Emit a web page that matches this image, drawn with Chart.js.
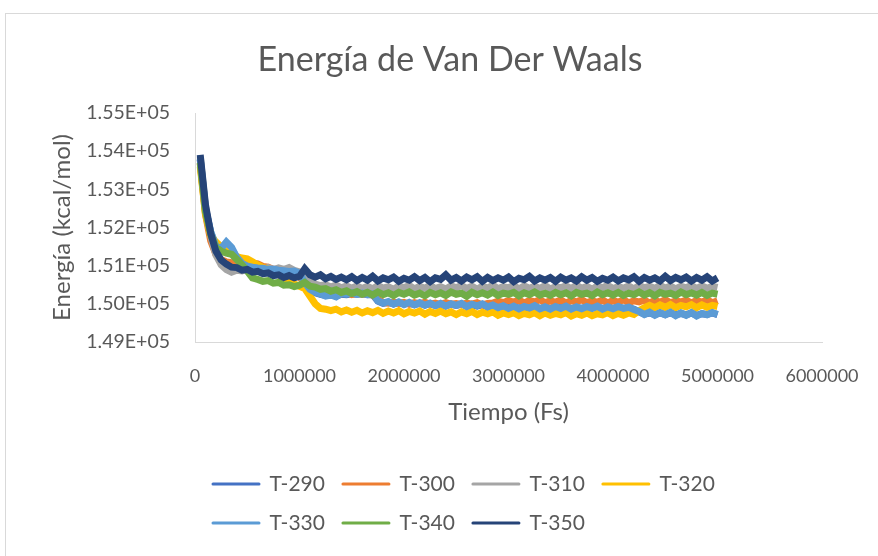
<!DOCTYPE html>
<html>
<head>
<meta charset="utf-8">
<script src="https://cdn.jsdelivr.net/npm/chart.js@4/dist/chart.umd.min.js"></script>
<style>
  html, body { margin: 0; padding: 0; background: #fff; overflow: hidden; }
  #chartVdw { display: block; }
</style>
</head>
<body>
<canvas id="chartVdw" width="900" height="556"></canvas>
<script>
// tiempo (fs), una muestra cada 50000 fs
const tiempo = [
  50000, 100000, 150000, 200000, 250000, 300000, 350000, 400000, 450000, 500000,
  550000, 600000, 650000, 700000, 750000, 800000, 850000, 900000, 950000, 1000000,
  1050000, 1100000, 1150000, 1200000, 1250000, 1300000, 1350000, 1400000, 1450000, 1500000,
  1550000, 1600000, 1650000, 1700000, 1750000, 1800000, 1850000, 1900000, 1950000, 2000000,
  2050000, 2100000, 2150000, 2200000, 2250000, 2300000, 2350000, 2400000, 2450000, 2500000,
  2550000, 2600000, 2650000, 2700000, 2750000, 2800000, 2850000, 2900000, 2950000, 3000000,
  3050000, 3100000, 3150000, 3200000, 3250000, 3300000, 3350000, 3400000, 3450000, 3500000,
  3550000, 3600000, 3650000, 3700000, 3750000, 3800000, 3850000, 3900000, 3950000, 4000000,
  4050000, 4100000, 4150000, 4200000, 4250000, 4300000, 4350000, 4400000, 4450000, 4500000,
  4550000, 4600000, 4650000, 4700000, 4750000, 4800000, 4850000, 4900000, 4950000, 5000000
];

const t290 = [
  153780, 152480, 151880, 151500, 151420, 151560, 151440, 151200, 151040, 150970,
  150940, 150920, 150910, 150890, 150890, 150870, 150850, 150840, 150840, 150780,
  150540, 150370, 150290, 150250, 150220, 150230, 150210, 150250, 150240, 150260,
  150250, 150260, 150240, 150240, 150070, 150010, 150040, 150000, 150030, 149990,
  150020, 149980, 150010, 149970, 150000, 149960, 149990, 149950, 149990, 149960,
  149990, 149940, 149980, 149940, 149980, 149920, 149950, 149910, 149940, 149900,
  149930, 149890, 149920, 149890, 149930, 149880, 149910, 149880, 149920, 149890,
  149920, 149880, 149910, 149880, 149920, 149890, 149920, 149880, 149910, 149880,
  149920, 149880, 149900, 149860, 149790, 149730, 149760, 149720, 149760, 149720,
  149760, 149710, 149750, 149710, 149760, 149700, 149740, 149720, 149760, 149720
];

const t300 = [
  153680, 152350, 151650, 151300, 151160, 151100, 151080, 151040, 151060, 151020,
  151070, 151050, 150980, 150960, 150900, 150910, 150860, 150840, 150780, 150700,
  150560, 150420, 150340, 150300, 150280, 150250, 150300, 150260, 150290, 150240,
  150280, 150250, 150270, 150230, 150120, 150040, 150020, 150050, 150010, 150040,
  149990, 150030, 150000, 150040, 149990, 150020, 149980, 150030, 149990, 150010,
  149980, 150020, 149990, 150030, 149970, 150010, 150020, 150070, 150030, 150090,
  150040, 150100, 150020, 150090, 150050, 150110, 150030, 150080, 150040, 150100,
  150020, 150090, 150050, 150110, 150030, 150080, 150040, 150100, 150020, 150090,
  150040, 150110, 150030, 150080, 150050, 150100, 150020, 150090, 150040, 150110,
  150030, 150080, 150050, 150100, 150020, 150090, 150040, 150110, 150030, 150080
];

const t310 = [
  153850, 152550, 151780, 151280, 151020, 150900, 150830, 150880, 150860, 150920,
  150880, 150940, 150900, 150950, 150890, 150940, 150900, 150950, 150880, 150840,
  150700, 150580, 150520, 150480, 150500, 150440, 150490, 150420, 150470, 150410,
  150470, 150400, 150460, 150390, 150480, 150410, 150450, 150380, 150470, 150420,
  150480, 150390, 150460, 150410, 150490, 150400, 150450, 150390, 150470, 150420,
  150480, 150400, 150460, 150380, 150470, 150410, 150490, 150400, 150450, 150420,
  150480, 150390, 150470, 150410, 150460, 150400, 150480, 150390, 150450, 150420,
  150470, 150400, 150490, 150410, 150460, 150380, 150470, 150420, 150480, 150400,
  150450, 150410, 150470, 150390, 150480, 150420, 150460, 150400, 150490, 150410,
  150470, 150390, 150460, 150420, 150480, 150400, 150470, 150410, 150460, 150430
];

const t320 = [
  153600, 152350, 151800, 151620, 151500, 151380, 151300, 151240, 151200, 151180,
  151100, 151020, 150950, 150900, 150820, 150760, 150680, 150600, 150520, 150460,
  150400, 150200, 150000, 149880, 149860, 149820, 149860, 149790, 149840, 149780,
  149830, 149760, 149820, 149770, 149830, 149750, 149810, 149760, 149820, 149740,
  149800, 149760, 149810, 149730, 149800, 149750, 149810, 149740, 149790, 149720,
  149790, 149740, 149800, 149720, 149780, 149740, 149790, 149700, 149760, 149720,
  149770, 149690, 149750, 149710, 149770, 149690, 149760, 149700, 149750, 149710,
  149770, 149680, 149740, 149700, 149760, 149690, 149740, 149710, 149770, 149690,
  149750, 149700, 149760, 149720, 149820, 149900, 149960, 149900, 149970, 149910,
  149980, 149900, 149960, 149920, 149980, 149900, 149970, 149910, 149960, 149930
];

const t330 = [
  153800, 152500, 151900, 151520, 151450, 151620, 151480, 151220, 151060, 150990,
  150960, 150940, 150930, 150900, 150910, 150880, 150870, 150850, 150860, 150800,
  150560, 150380, 150300, 150260, 150200, 150230, 150180, 150270, 150250, 150290,
  150250, 150280, 150240, 150260, 150080, 150020, 150060, 149990, 150050, 149980,
  150040, 149970, 150030, 149960, 150020, 149950, 150010, 149940, 150000, 149960,
  150010, 149930, 149990, 149950, 150000, 149920, 149970, 149900, 149950, 149880,
  149940, 149870, 149930, 149890, 149950, 149870, 149920, 149860, 149930, 149880,
  149940, 149860, 149920, 149870, 149930, 149880, 149940, 149860, 149920, 149870,
  149930, 149880, 149910, 149850, 149800, 149720, 149780, 149700, 149770, 149710,
  149780, 149690, 149760, 149700, 149770, 149680, 149750, 149710, 149770, 149720
];

const t340 = [
  153700, 152420, 151820, 151480, 151380, 151330, 151300, 151160, 151020, 150860,
  150680, 150640, 150590, 150610, 150540, 150560, 150490, 150500, 150450, 150490,
  150560, 150460, 150440, 150380, 150400, 150330, 150370, 150300, 150340, 150270,
  150320, 150250, 150300, 150230, 150310, 150240, 150290, 150220, 150300, 150250,
  150310, 150230, 150280, 150210, 150300, 150240, 150290, 150220, 150310, 150250,
  150280, 150200, 150300, 150240, 150290, 150230, 150310, 150220, 150280, 150250,
  150300, 150210, 150290, 150240, 150310, 150230, 150280, 150220, 150300, 150240,
  150290, 150210, 150300, 150250, 150280, 150220, 150310, 150240, 150290, 150230,
  150300, 150220, 150280, 150240, 150310, 150230, 150290, 150210, 150300, 150250,
  150280, 150220, 150310, 150240, 150290, 150230, 150300, 150220, 150280, 150250
];

const t350 = [
  153900, 152600, 151850, 151380, 151150, 151040, 150960, 150950, 150880, 150900,
  150830, 150850, 150790, 150810, 150740, 150760, 150690, 150740, 150680, 150720,
  150920, 150760, 150700, 150760, 150660, 150720, 150640, 150700, 150630, 150710,
  150610, 150690, 150620, 150720, 150600, 150680, 150630, 150700, 150590, 150670,
  150620, 150710, 150610, 150690, 150580, 150680, 150640, 150760, 150620, 150690,
  150600, 150700, 150630, 150710, 150590, 150690, 150610, 150680, 150620, 150700,
  150580, 150670, 150630, 150720, 150600, 150680, 150620, 150690, 150590, 150700,
  150620, 150680, 150600, 150710, 150620, 150690, 150590, 150670, 150620, 150700,
  150600, 150680, 150630, 150710, 150590, 150690, 150620, 150680, 150600, 150720,
  150610, 150690, 150630, 150700, 150600, 150690, 150620, 150710, 150600, 150680
];

const nombres = ['T-290', 'T-300', 'T-310', 'T-320', 'T-330', 'T-340', 'T-350'];
const energias = [t290, t300, t310, t320, t330, t340, t350];
const colores = ['#4472C4', '#ED7D31', '#A5A5A5', '#FFC000', '#5B9BD5', '#70AD47', '#264478'];

const grisTexto = '#595959';
const grisEje = '#d9d9d9';

Chart.defaults.font.family = 'Lato';
Chart.defaults.color = grisTexto;

// marco del grafico (como en Excel) y fondo blanco
const marco = {
  id: 'marco',
  beforeDraw(chart) {
    const ctx = chart.ctx;
    ctx.save();
    ctx.fillStyle = '#fff';
    ctx.fillRect(0, 0, chart.width, chart.height);
    ctx.strokeStyle = grisEje;
    ctx.lineWidth = 1;
    ctx.strokeRect(5.5, 13.5, chart.width + 20, chart.height + 20);
    ctx.restore();
  }
};

new Chart(document.getElementById('chartVdw'), {
  type: 'line',
  data: {
    datasets: nombres.map((nombre, i) => ({
      label: nombre,
      data: tiempo.map((x, j) => ({x: x, y: energias[i][j]})),
      borderColor: colores[i],
      backgroundColor: colores[i],
      borderWidth: 7,
      pointRadius: 0,
      tension: 0,
      fill: false,
      order: nombres.length - i
    }))
  },
  options: {
    responsive: false,
    animation: false,
    events: [],
    layout: {
      padding: {left: 0, right: 0, top: 0, bottom: 12.5}
    },
    plugins: {
      title: {
        display: true,
        text: 'Energía de Van Der Waals',
        color: grisTexto,
        font: {size: 34, weight: 'normal'},
        padding: {top: 39.6, bottom: 32.6}
      },
      legend: {
        position: 'bottom',
        align: 'start',
        fullSize: false,
        labels: {
          usePointStyle: true,
          pointStyle: 'line',
          pointStyleWidth: 46,
          padding: 18,
          color: grisTexto,
          font: {size: 21},
          generateLabels(chart) {
            const items = Chart.defaults.plugins.legend.labels.generateLabels(chart);
            items.sort((a, b) => a.datasetIndex - b.datasetIndex);
            items.forEach(it => {
              it.lineWidth = 3;
              it.lineCap = 'round';
            });
            return items;
          }
        }
      },
      tooltip: {enabled: false}
    },
    scales: {
      x: {
        type: 'linear',
        min: 0,
        max: 6000000,
        grid: {display: false, drawTicks: false},
        border: {color: grisEje},
        ticks: {
          stepSize: 1000000,
          autoSkip: false,
          maxRotation: 0,
          padding: 23,
          color: grisTexto,
          font: {size: 18},
          callback: v => String(v)
        },
        title: {
          display: true,
          text: 'Tiempo (Fs)',
          color: grisTexto,
          font: {size: 24},
          padding: {top: 10, bottom: 29}
        },
        afterFit: s => { s.height = 113.5; }
      },
      y: {
        min: 149000,
        max: 155000,
        grid: {display: false, drawTicks: false},
        border: {color: grisEje},
        ticks: {
          stepSize: 1000,
          padding: 25,
          color: grisTexto,
          font: {size: 19.5},
          callback: v => (v / 100000).toFixed(2) + 'E+05'
        },
        title: {
          display: true,
          text: 'Energía (kcal/mol)',
          color: grisTexto,
          font: {size: 24},
          padding: {top: 47.6, bottom: 0}
        },
        afterFit: s => { s.width = 195; }
      },
      // eje vacio a la derecha: solo reserva el margen hasta el borde
      margenDer: {
        type: 'linear',
        position: 'right',
        grid: {display: false, drawTicks: false},
        border: {display: false},
        ticks: {display: false},
        afterFit: s => { s.width = 78; }
      }
    }
  },
  plugins: [marco]
});
</script>
</body>
</html>
